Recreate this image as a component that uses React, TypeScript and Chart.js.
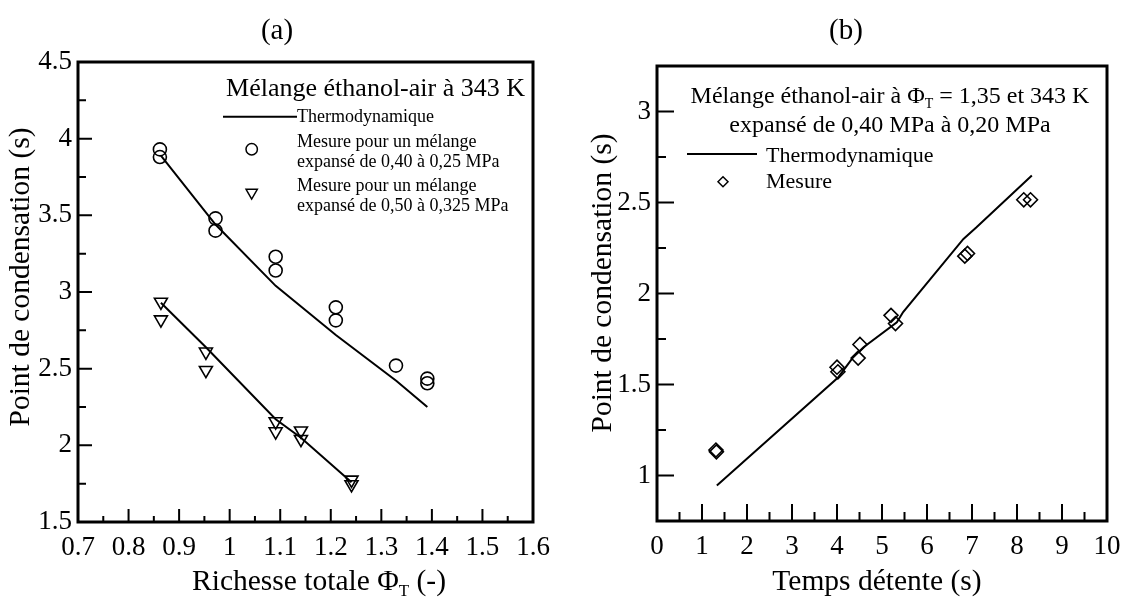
import React, { useEffect, useRef } from 'react';
import { Chart, registerables } from 'chart.js';

Chart.register(...registerables);

const FONT = "'Liberation Serif', 'Times New Roman', serif";

// ---------- Panel (a) data ----------
const phiCircles = [0.862, 0.862, 0.972, 0.972, 1.091, 1.091, 1.21, 1.21, 1.329, 1.391, 1.391];
const tCircles = [3.93, 3.88, 3.48, 3.40, 3.23, 3.14, 2.90, 2.815, 2.52, 2.435, 2.405];
const phiTriangles = [0.864, 0.864, 0.953, 0.953, 1.091, 1.091, 1.141, 1.141, 1.241, 1.241];
const tTriangles = [2.935, 2.82, 2.61, 2.49, 2.155, 2.09, 2.095, 2.04, 1.775, 1.745];
const phiThermo1 = [0.864, 0.972, 1.091, 1.21, 1.33, 1.391];
const tThermo1 = [3.89, 3.44, 3.04, 2.72, 2.42, 2.25];
const phiThermo2 = [0.864, 0.953, 1.091, 1.141, 1.241];
const tThermo2 = [2.93, 2.64, 2.17, 2.05, 1.76];

const xTicksA = [0.7, 0.8, 0.9, 1, 1.1, 1.2, 1.3, 1.4, 1.5, 1.6];
const xMinorA = [0.75, 0.85, 0.95, 1.05, 1.15, 1.25, 1.35, 1.45, 1.55];
const yTicksA = [1.5, 2, 2.5, 3, 3.5, 4, 4.5];
const yMinorA = [1.75, 2.25, 2.75, 3.25, 3.75, 4.25];

// ---------- Panel (b) data ----------
const tempsMesure = [1.31, 1.32, 4.0, 4.02, 4.51, 4.47, 5.2, 5.3, 6.84, 6.9, 8.15, 8.3];
const pointMesure = [1.14, 1.13, 1.595, 1.57, 1.72, 1.645, 1.88, 1.835, 2.205, 2.22, 2.515, 2.515];
const tempsThermo = [1.33, 4.03, 4.36, 4.59, 5.33, 5.47, 6.81, 7.1, 8.33];
const pointThermo = [0.945, 1.54, 1.65, 1.705, 1.842, 1.898, 2.3, 2.364, 2.648];

const xTicksB = [0, 1, 2, 3, 4, 5, 6, 7, 8, 9, 10];
const xMinorB = [0.5, 1.5, 2.5, 3.5, 4.5, 5.5, 6.5, 7.5, 8.5, 9.5];
const yTicksB = [1, 1.5, 2, 2.5, 3];
const yMinorB = [1.25, 1.75, 2.25, 2.75];

const zip = (xs: number[], ys: number[]) => xs.map((x, i) => ({ x, y: ys[i] }));

type Part = { t: string; size: number; dy?: number };

function drawParts(ctx: CanvasRenderingContext2D, parts: Part[], x: number, y: number, align: 'left' | 'center' | 'right') {
  let total = 0;
  const widths: number[] = [];
  for (const p of parts) {
    ctx.font = `${p.size}px ${FONT}`;
    const w = ctx.measureText(p.t).width;
    widths.push(w);
    total += w;
  }
  let cx = align === 'left' ? x : align === 'center' ? x - total / 2 : x - total;
  ctx.textAlign = 'left';
  parts.forEach((p, i) => {
    ctx.font = `${p.size}px ${FONT}`;
    ctx.fillText(p.t, cx, y + (p.dy || 0));
    cx += widths[i];
  });
}

function drawMarker(ctx: CanvasRenderingContext2D, kind: string, x: number, y: number, r: number) {
  ctx.beginPath();
  if (kind === 'circle') {
    ctx.arc(x, y, r, 0, Math.PI * 2);
  } else if (kind === 'triangleDown') {
    const h = r;
    ctx.moveTo(x, y + h);
    ctx.lineTo(x - h * Math.sin(Math.PI / 3), y - h / 2);
    ctx.lineTo(x + h * Math.sin(Math.PI / 3), y - h / 2);
    ctx.closePath();
  } else {
    ctx.moveTo(x - r, y);
    ctx.lineTo(x, y - r);
    ctx.lineTo(x + r, y);
    ctx.lineTo(x, y + r);
    ctx.closePath();
  }
  ctx.stroke();
}

type PanelCfg = {
  offsetX: number;
  width: number;
  padRight: number;
  padTop: number;
  yWidth: number;
  xHeight: number;
  xMin: number; xMax: number; yMin: number; yMax: number;
  xTicks: number[]; yTicks: number[]; xMinor: number[]; yMinor: number[];
  len: { xMaj: number; xMin: number; yMaj: number; yMin: number };
  datasets: any[];
  decorate: (ctx: CanvasRenderingContext2D, ox: number) => void;
};

function makeChart(canvas: HTMLCanvasElement, cfg: PanelCfg) {
  const framePlugin = {
    id: 'frame' + cfg.offsetX,
    afterDraw(chart: any) {
      const { ctx, chartArea: ca } = chart;
      const xs = chart.scales.x;
      const ys = chart.scales.y;
      ctx.save();
      ctx.strokeStyle = '#000';
      ctx.fillStyle = '#000';
      ctx.lineWidth = 2;
      ctx.beginPath();
      cfg.xTicks.forEach((v) => {
        const px = xs.getPixelForValue(v);
        ctx.moveTo(px, ca.bottom);
        ctx.lineTo(px, ca.bottom - cfg.len.xMaj);
      });
      cfg.xMinor.forEach((v) => {
        const px = xs.getPixelForValue(v);
        ctx.moveTo(px, ca.bottom);
        ctx.lineTo(px, ca.bottom - cfg.len.xMin);
      });
      cfg.yTicks.forEach((v) => {
        const py = ys.getPixelForValue(v);
        ctx.moveTo(ca.left, py);
        ctx.lineTo(ca.left + cfg.len.yMaj, py);
      });
      cfg.yMinor.forEach((v) => {
        const py = ys.getPixelForValue(v);
        ctx.moveTo(ca.left, py);
        ctx.lineTo(ca.left + cfg.len.yMin, py);
      });
      ctx.stroke();
      ctx.lineWidth = 3;
      ctx.strokeRect(ca.left, ca.top, ca.right - ca.left, ca.bottom - ca.top);
      ctx.lineWidth = 1.5;
      cfg.decorate(ctx, cfg.offsetX);
      ctx.restore();
    },
  };

  const tickFont = { family: FONT, size: 27 };
  const fmt = (v: any) => String(Math.round(Number(v) * 100) / 100);

  return new Chart(canvas, {
    type: 'scatter',
    data: { datasets: cfg.datasets },
    options: {
      responsive: false,
      animation: false,
      events: [],
      layout: { padding: { left: 0, right: cfg.padRight, top: cfg.padTop, bottom: 0 } },
      plugins: { legend: { display: false }, tooltip: { enabled: false }, title: { display: false } },
      scales: {
        x: {
          type: 'linear',
          min: cfg.xMin,
          max: cfg.xMax,
          grid: { display: false, drawTicks: false },
          border: { display: false },
          afterBuildTicks: (s: any) => { s.ticks = cfg.xTicks.map((v) => ({ value: v })); },
          afterFit: (s: any) => { s.height = cfg.xHeight; },
          ticks: { font: tickFont, color: '#000', padding: 10, maxRotation: 0, autoSkip: false, callback: fmt },
        },
        y: {
          type: 'linear',
          min: cfg.yMin,
          max: cfg.yMax,
          grid: { display: false, drawTicks: false },
          border: { display: false },
          afterBuildTicks: (s: any) => { s.ticks = cfg.yTicks.map((v) => ({ value: v })); },
          afterFit: (s: any) => { s.width = cfg.yWidth; },
          ticks: { font: tickFont, color: '#000', padding: 6, autoSkip: false, callback: fmt },
        },
      },
    },
    plugins: [framePlugin],
  } as any);
}

const lineDs = (data: any[]) => ({
  data,
  showLine: true,
  borderColor: '#000',
  borderWidth: 2,
  pointRadius: 0,
  tension: 0,
  fill: false,
});

const markerDs = (data: any[], style: string, r: number, rotation = 0) => ({
  data,
  showLine: false,
  pointStyle: style,
  pointRadius: r,
  pointRotation: rotation,
  borderColor: '#000',
  pointBorderColor: '#000',
  pointBackgroundColor: 'rgba(0,0,0,0)',
  backgroundColor: 'rgba(0,0,0,0)',
  pointBorderWidth: 1.6,
});

export default function App() {
  const refA = useRef<HTMLCanvasElement>(null);
  const refB = useRef<HTMLCanvasElement>(null);

  useEffect(() => {
    const a = makeChart(refA.current!, {
      offsetX: 0,
      width: 567,
      padRight: 34,
      padTop: 62,
      yWidth: 78,
      xHeight: 75,
      xMin: 0.7, xMax: 1.6, yMin: 1.5, yMax: 4.5,
      xTicks: xTicksA, yTicks: yTicksA, xMinor: xMinorA, yMinor: yMinorA,
      len: { xMaj: 13, xMin: 6, yMaj: 14, yMin: 8 },
      datasets: [
        lineDs(zip(phiThermo1, tThermo1)),
        lineDs(zip(phiThermo2, tThermo2)),
        markerDs(zip(phiCircles, tCircles), 'circle', 6.5),
        markerDs(zip(phiTriangles, tTriangles), 'triangle', 7.5, 180),
      ],
      decorate: (ctx, ox) => {
        ctx.textBaseline = 'alphabetic';
        drawParts(ctx, [{ t: '(a)', size: 29 }], 277 - ox, 39, 'center');
        drawParts(ctx, [{ t: 'Mélange éthanol-air à 343 K', size: 26 }], 525 - ox, 96, 'right');
        ctx.lineWidth = 2;
        ctx.beginPath();
        ctx.moveTo(223 - ox, 116.7);
        ctx.lineTo(297 - ox, 116.7);
        ctx.stroke();
        ctx.lineWidth = 1.5;
        drawMarker(ctx, 'circle', 251.7 - ox, 149.3, 5.7);
        drawMarker(ctx, 'triangleDown', 251.7 - ox, 192.5, 6.5);
        ctx.textBaseline = 'middle';
        drawParts(ctx, [{ t: 'Thermodynamique', size: 18 }], 297 - ox, 117, 'left');
        drawParts(ctx, [{ t: 'Mesure pour un mélange', size: 18 }], 297 - ox, 142, 'left');
        drawParts(ctx, [{ t: 'expansé de 0,40 à 0,25 MPa', size: 18 }], 297 - ox, 162, 'left');
        drawParts(ctx, [{ t: 'Mesure pour un mélange', size: 18 }], 297 - ox, 186, 'left');
        drawParts(ctx, [{ t: 'expansé de 0,50 à 0,325 MPa', size: 18 }], 297 - ox, 206, 'left');
        ctx.textBaseline = 'alphabetic';
        drawParts(ctx, [
          { t: 'Richesse totale Φ', size: 29.5 },
          { t: 'T', size: 17, dy: 6 },
          { t: ' (-)', size: 29.5 },
        ], 319 - ox, 590, 'center');
        ctx.save();
        ctx.translate(28.5 - ox, 277);
        ctx.rotate(-Math.PI / 2);
        drawParts(ctx, [{ t: 'Point de condensation (s)', size: 29.5 }], 0, 0, 'center');
        ctx.restore();
      },
    });

    const b = makeChart(refB.current!, {
      offsetX: 567,
      width: 567,
      padRight: 27,
      padTop: 66,
      yWidth: 90,
      xHeight: 76,
      xMin: 0, xMax: 10, yMin: 0.75, yMax: 3.25,
      xTicks: xTicksB, yTicks: yTicksB, xMinor: xMinorB, yMinor: yMinorB,
      len: { xMaj: 17, xMin: 9, yMaj: 17, yMin: 9 },
      datasets: [
        lineDs(zip(tempsThermo, pointThermo)),
        markerDs(zip(tempsMesure, pointMesure), 'rectRot', 7),
      ],
      decorate: (ctx, ox) => {
        ctx.textBaseline = 'alphabetic';
        drawParts(ctx, [{ t: '(b)', size: 29 }], 846 - ox, 39, 'center');
        drawParts(ctx, [
          { t: 'Mélange éthanol-air à Φ', size: 24 },
          { t: 'T', size: 14, dy: 5 },
          { t: ' = 1,35 et 343 K', size: 24 },
        ], 890 - ox, 103, 'center');
        drawParts(ctx, [{ t: 'expansé de 0,40 MPa à 0,20 MPa', size: 24 }], 890 - ox, 132, 'center');
        ctx.lineWidth = 2;
        ctx.beginPath();
        ctx.moveTo(687 - ox, 154);
        ctx.lineTo(757 - ox, 154);
        ctx.stroke();
        ctx.lineWidth = 1.5;
        drawMarker(ctx, 'diamond', 723 - ox, 181.7, 5);
        drawParts(ctx, [{ t: 'Thermodynamique', size: 22 }], 766 - ox, 161.5, 'left');
        drawParts(ctx, [{ t: 'Mesure', size: 22 }], 766 - ox, 188, 'left');
        drawParts(ctx, [{ t: 'Temps détente (s)', size: 29.5 }], 877 - ox, 590, 'center');
        ctx.save();
        ctx.translate(611 - ox, 283);
        ctx.rotate(-Math.PI / 2);
        drawParts(ctx, [{ t: 'Point de condensation (s)', size: 29.5 }], 0, 0, 'center');
        ctx.restore();
      },
    });

    return () => {
      a.destroy();
      b.destroy();
    };
  }, []);

  return (
    <div style={{ position: 'absolute', left: 0, top: 0, width: 1134, height: 597, background: '#fff', overflow: 'hidden' }}>
      <canvas ref={refA} width={567} height={597} style={{ position: 'absolute', left: 0, top: 0, width: 567, height: 597 }} />
      <canvas ref={refB} width={567} height={597} style={{ position: 'absolute', left: 567, top: 0, width: 567, height: 597 }} />
    </div>
  );
}
